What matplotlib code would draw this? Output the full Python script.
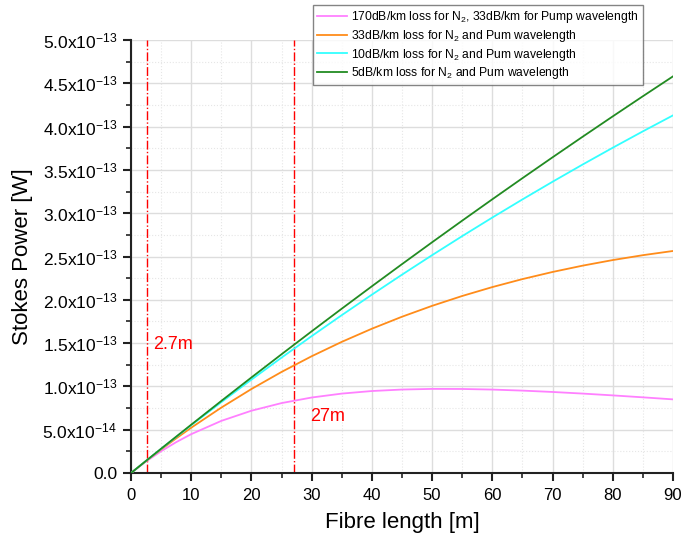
import numpy as np
import matplotlib
matplotlib.use("Agg")
import matplotlib.pyplot as plt
from matplotlib.ticker import MultipleLocator, FuncFormatter

plt.rcParams['font.family'] = ['Liberation Sans', 'DejaVu Sans']
plt.rcParams['mathtext.default'] = 'regular'

# fibre length [m]
length = [0, 2.5, 5, 7.5, 10, 15, 20, 25, 30, 35, 40, 45, 50, 55, 60, 65, 70, 75, 80, 85, 90]

# Stokes power in units of 1e-13 W
p_170 = [0, 0.1332, 0.2514, 0.3562, 0.4487, 0.6019, 0.7192, 0.8073, 0.8717, 0.9169, 0.9466,
         0.9638, 0.9711, 0.9703, 0.9634, 0.9514, 0.9357, 0.9171, 0.8962, 0.8738, 0.8502]
p_33 = [0, 0.1385, 0.2717, 0.3999, 0.5232, 0.7555, 0.9698, 1.1671, 1.3483, 1.5144, 1.6662,
        1.8046, 1.9303, 2.0442, 2.1469, 2.2391, 2.3214, 2.3945, 2.4589, 2.5152, 2.5638]
p_10 = [0, 0.1403, 0.2790, 0.4161, 0.5517, 0.8180, 1.0782, 1.3323, 1.5805, 1.8228, 2.0593,
        2.2902, 2.5156, 2.7354, 2.9499, 3.1592, 3.3633, 3.5623, 3.7562, 3.9453, 4.1296]
p_5 = [0, 0.1407, 0.2806, 0.4197, 0.5580, 0.8323, 1.1033, 1.3712, 1.6360, 1.8977, 2.1563,
       2.4119, 2.6645, 2.9141, 3.1608, 3.4045, 3.6454, 3.8833, 4.1184, 4.3507, 4.5802]

labels = ["170dB/km loss for N$_2$, 33dB/km for Pump wavelength",
          "33dB/km loss for N$_2$ and Pum wavelength",
          "10dB/km loss for N$_2$ and Pum wavelength",
          "5dB/km loss for N$_2$ and Pum wavelength"]
colors = ['#ff80ff', '#ff8c1a', '#33ffff', '#228b22']
marker_x = [2.7, 27]
marker_text = ["2.7m", "27m"]
x_ticks = [0, 10, 20, 30, 40, 50, 60, 70, 80, 90]
y_ticks = [0, 0.5e-13, 1.0e-13, 1.5e-13, 2.0e-13, 2.5e-13, 3.0e-13, 3.5e-13, 4.0e-13, 4.5e-13, 5.0e-13]

fig = plt.figure(figsize=(6.82, 5.41), dpi=100)
ax = fig.add_axes([131 / 682, 68 / 541, 542 / 682, 433 / 541])

x = np.array(length)
series = [p_170, p_33, p_10, p_5]
for ys, c, lab in zip(series, colors, labels):
    ax.plot(x, np.array(ys) * 1e-13, color=c, lw=1.3, label=lab, zorder=3)

# vertical markers
for xm in marker_x:
    ax.plot([xm, xm], [0, 5e-13], color='red', ls='-.', lw=1.0, zorder=2)
ax.text(3.7, 1.48e-13, marker_text[0], color='red', fontsize=13, va='center')
ax.text(29.8, 0.65e-13, marker_text[1], color='red', fontsize=13, va='center')

ax.set_xticks(x_ticks)
ax.set_yticks(y_ticks)
ax.xaxis.set_minor_locator(MultipleLocator(5))
ax.yaxis.set_minor_locator(MultipleLocator(2.5e-14))
ax.set_xlim(0, 90)
ax.set_ylim(0, 5e-13)


def fmt(v, pos):
    if abs(v) < 1e-20:
        return "0.0"
    e = int(np.floor(np.log10(abs(v)) + 1e-9))
    m = v / 10 ** e
    return f"{m:.1f}x10$^{{{e}}}$"


ax.yaxis.set_major_formatter(FuncFormatter(fmt))
ax.grid(which='major', color='#dddddd', lw=1.0, zorder=0)
ax.grid(which='minor', color='#e6e6e6', lw=0.8, ls=':', zorder=0)
ax.set_axisbelow(True)

for s in ['top', 'right']:
    ax.spines[s].set_visible(False)
for s in ['left', 'bottom']:
    ax.spines[s].set_linewidth(1.5)
    ax.spines[s].set_color('#222222')
ax.tick_params(which='major', direction='out', length=6, width=1.5, labelsize=12.5,
               color='#222222', pad=4)
ax.tick_params(axis='x', which='major', labelsize=12, pad=5)
ax.tick_params(which='minor', direction='out', length=3.5, width=1.2, color='#222222')

ax.set_xlabel("Fibre length [m]", fontsize=16)
ax.set_ylabel("Stokes Power [W]", fontsize=16)
ax.xaxis.set_label_coords(0.5, -0.09)
ax.yaxis.set_label_coords(-0.181, 0.5)

leg = ax.legend(loc='upper left', bbox_to_anchor=(313 / 682, 1 - 5 / 541),
                bbox_transform=fig.transFigure, fontsize=8.7, frameon=True,
                fancybox=False, handlelength=2.5, handletextpad=0.3,
                borderpad=0.35, labelspacing=0.22, borderaxespad=0)
leg.get_frame().set_edgecolor('#666666')
leg.get_frame().set_linewidth(1.0)
leg.set_zorder(5)

fig.savefig("out.png", dpi=100)
